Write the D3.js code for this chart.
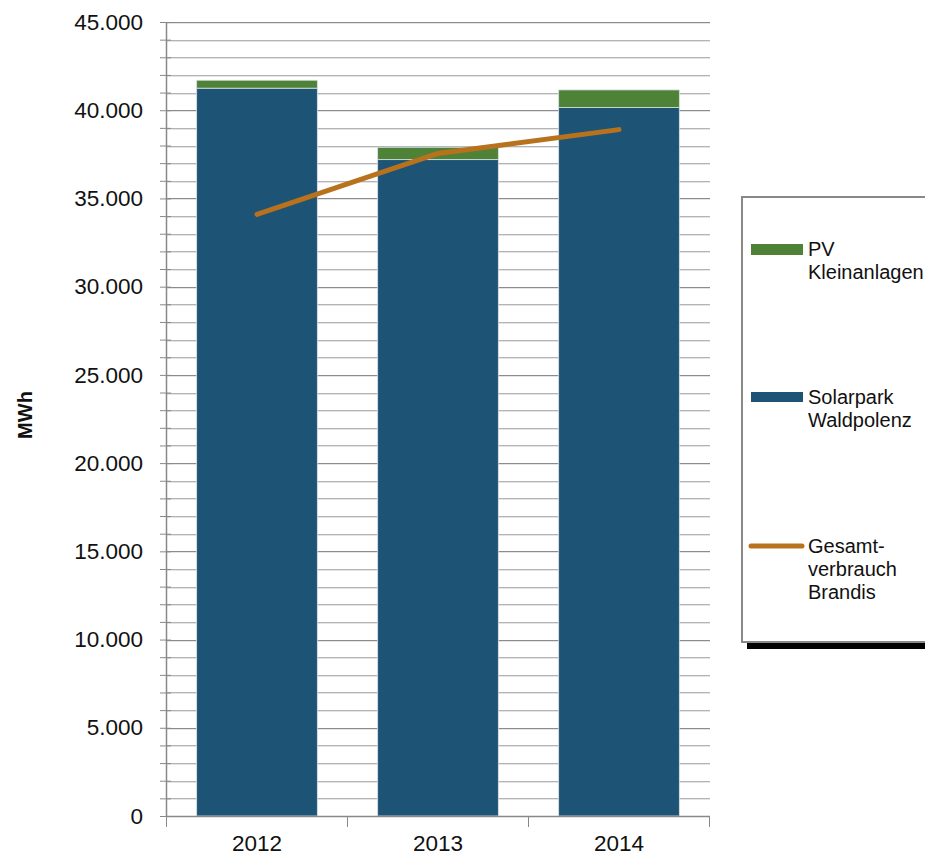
<!DOCTYPE html>
<html>
<head>
<meta charset="utf-8">
<script src="https://cdn.jsdelivr.net/npm/d3@7"></script>
<style>
  body { margin: 0; background: #fff; }
  svg { display: block; font-family: "Liberation Sans", Arial, sans-serif; }
</style>
</head>
<body>
<div id="main"></div>
<script>
var years = ["2012", "2013", "2014"];
var solarpark = [41250, 37200, 40150];
var kleinanlagen = [450, 700, 1000];
var verbrauch = [34100, 37550, 38900];
var y_ticks = [0, 5000, 10000, 15000, 20000, 25000, 30000, 35000, 40000, 45000];
var legend_labels = [["PV", "Kleinanlagen"], ["Solarpark", "Waldpolenz"], ["Gesamt-", "verbrauch", "Brandis"]];

var green = "#4e8237";
var blue = "#1d5375";
var orange = "#b8721d";

var width = 925, height = 856;
var svg = d3.select("#main")
    .append("svg")
    .attr("width", width)
    .attr("height", height);

var x = d3.scaleBand()
    .domain(years)
    .range([166.5, 709.5])
    .paddingInner(1 / 3)
    .paddingOuter(1 / 6);

var y = d3.scaleLinear()
    .domain([0, 45000])
    .range([816, 22]);

// gridlines, one per 1000, darker every 5000
var minor = d3.range(1000, 45001, 1000);
svg.selectAll(".grid_shadow")
    .data(minor)
    .enter()
    .append("line")
    .attr("x1", 166).attr("x2", 710)
    .attr("y1", function(d) { return Math.round(y(d)) + 1.5; })
    .attr("y2", function(d) { return Math.round(y(d)) + 1.5; })
    .style("stroke", "#e4e4e4");
svg.selectAll(".grid")
    .data(minor)
    .enter()
    .append("line")
    .attr("x1", 166).attr("x2", 710)
    .attr("y1", function(d) { return Math.round(y(d)) + 0.5; })
    .attr("y2", function(d) { return Math.round(y(d)) + 0.5; })
    .style("stroke", function(d) { return d % 5000 == 0 ? "#8c8c8c" : "#b4b4b4"; });

// stacked bars
var stacks = years.map(function(yr, i) {
    return {year: yr, base: solarpark[i], top: solarpark[i] + kleinanlagen[i]};
});
svg.selectAll(".bar_base")
    .data(stacks)
    .enter()
    .append("rect")
    .attr("x", function(d) { return x(d.year); })
    .attr("width", x.bandwidth())
    .attr("y", function(d) { return y(d.base); })
    .attr("height", function(d) { return y(0) - y(d.base); })
    .style("fill", blue)
    .style("stroke", "#d8e0e6")
    .style("stroke-width", 0.8);
svg.selectAll(".bar_top")
    .data(stacks)
    .enter()
    .append("rect")
    .attr("x", function(d) { return x(d.year); })
    .attr("width", x.bandwidth())
    .attr("y", function(d) { return y(d.top); })
    .attr("height", function(d) { return y(d.base) - y(d.top); })
    .style("fill", green)
    .style("stroke", "#d8e0e6")
    .style("stroke-width", 0.8);

// y axis
var yaxis = d3.axisLeft(y)
    .tickValues(d3.range(0, 45001, 1000))
    .tickSize(6)
    .tickFormat(function(d) {
        return y_ticks.indexOf(d) >= 0 ? d3.format(",")(d).replace(/,/g, ".") : "";
    });
var yg = svg.append("g")
    .attr("transform", "translate(166,0)")
    .call(yaxis);
yg.select(".domain").style("stroke", "#888").style("stroke-width", 1.5)
    .attr("d", "M0.5," + y(45000) + "V" + y(0));
yg.selectAll(".tick line")
    .attr("x1", 5)
    .attr("x2", -6)
    .style("stroke", "#888");
yg.selectAll(".tick text")
    .attr("x", -23)
    .style("font-size", "22.5px")
    .style("fill", "#111")
    .style("font-family", "Liberation Sans, Arial, sans-serif");

// x axis
var xg = svg.append("g")
    .attr("transform", "translate(0,816)");
xg.append("line")
    .attr("x1", 166).attr("x2", 710)
    .attr("y1", 0.5).attr("y2", 0.5)
    .style("stroke", "#888").style("stroke-width", 1.5);
var bounds = [0, 1, 2, 3].map(function(i) { return 166.5 + i * x.step(); });
xg.selectAll(".xtick")
    .data(bounds)
    .enter()
    .append("line")
    .attr("x1", function(d) { return d; })
    .attr("x2", function(d) { return d; })
    .attr("y1", 0).attr("y2", 11)
    .style("stroke", "#888");
xg.selectAll(".xlabel")
    .data(years)
    .enter()
    .append("text")
    .attr("x", function(d) { return x(d) + x.bandwidth() / 2; })
    .attr("y", 35)
    .attr("text-anchor", "middle")
    .style("font-size", "22.5px")
    .style("fill", "#111")
    .text(function(d) { return d; });

// consumption line
var line = d3.line()
    .x(function(d, i) { return x(years[i]) + x.bandwidth() / 2; })
    .y(function(d) { return y(d); });
svg.append("path")
    .datum(verbrauch)
    .attr("d", line)
    .style("fill", "none")
    .style("stroke", orange)
    .style("stroke-width", 5)
    .style("stroke-linecap", "round")
    .style("stroke-linejoin", "round");

// y title
svg.append("text")
    .attr("transform", "translate(32,415) rotate(-90)")
    .attr("text-anchor", "middle")
    .style("font-size", "20px")
    .style("font-weight", "bold")
    .style("fill", "#111")
    .text("MWh");

// legend
var legend = svg.append("g");
legend.append("rect")
    .attr("x", 747).attr("y", 203)
    .attr("width", 200).attr("height", 446)
    .style("fill", "#000");
legend.append("rect")
    .attr("x", 742).attr("y", 197)
    .attr("width", 200).attr("height", 445)
    .style("fill", "#fff")
    .style("stroke", "#888")
    .style("stroke-width", 2);

legend.append("rect")
    .attr("x", 751).attr("y", 244)
    .attr("width", 52).attr("height", 11)
    .style("fill", green);
legend.append("rect")
    .attr("x", 751).attr("y", 392)
    .attr("width", 52).attr("height", 10)
    .style("fill", blue);
legend.append("line")
    .attr("x1", 751).attr("x2", 802)
    .attr("y1", 546).attr("y2", 546)
    .style("stroke", orange)
    .style("stroke-width", 5)
    .style("stroke-linecap", "round");

var legend_y = [256, 404, 553];
legend_labels.forEach(function(lines, i) {
    var t = legend.append("text")
        .attr("x", 808)
        .attr("y", legend_y[i])
        .style("font-size", "20px")
        .style("fill", "#111");
    lines.forEach(function(s, j) {
        t.append("tspan")
            .attr("x", 808)
            .attr("dy", j == 0 ? 0 : 23)
            .text(s);
    });
});
</script>
</body>
</html>
